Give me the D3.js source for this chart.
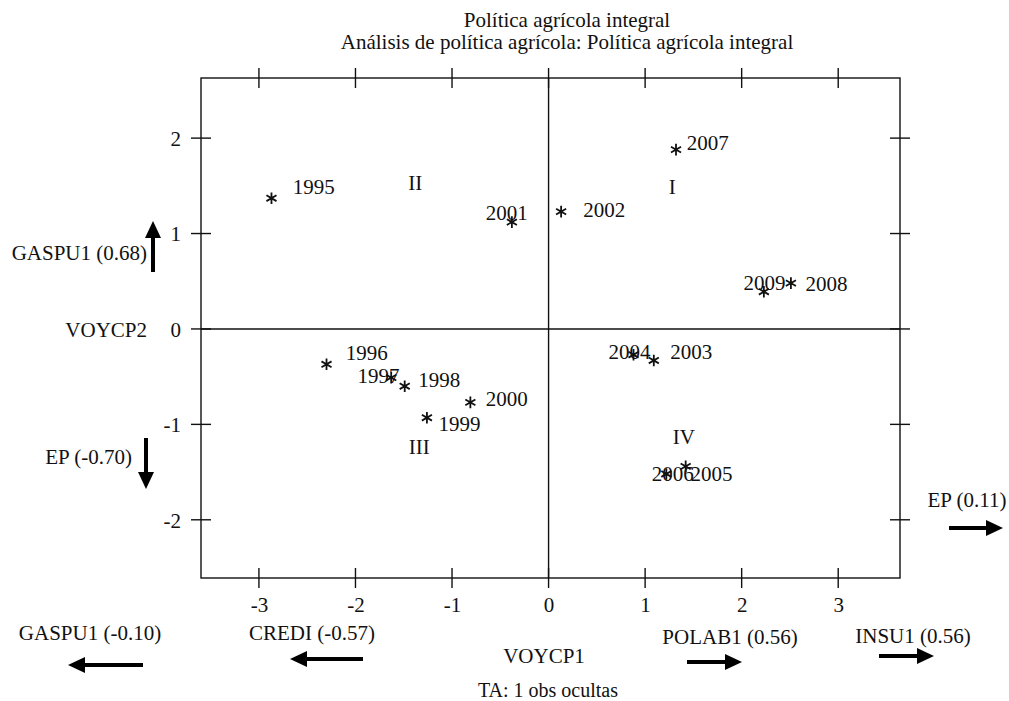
<!DOCTYPE html>
<html>
<head>
<meta charset="utf-8">
<script src="https://cdn.jsdelivr.net/npm/d3@7"></script>
<style>
  body { margin: 0; background: #fff; }
  svg text { font-family: "Liberation Serif", "Times New Roman", serif; fill: #111; }
</style>
</head>
<body>
<svg id="chart" width="1009" height="701"></svg>
<script>
// observation labels (years) and their scores on the two components
var years = ['1995', '1996', '1997', '1998', '1999', '2000', '2001', '2002',
  '2003', '2004', '2005', '2006', '2007', '2008', '2009'];
var voycp1 = [-2.87, -2.30, -1.63, -1.49, -1.26, -0.81, -0.38, 0.13,
  1.09, 0.88, 1.42, 1.22, 1.32, 2.51, 2.23];
var voycp2 = [1.37, -0.37, -0.51, -0.60, -0.93, -0.77, 1.12, 1.23,
  -0.33, -0.27, -1.44, -1.52, 1.88, 0.48, 0.39];

// where SAS put each year label (left edge / middle, in axis units)
var labelX = [-2.65, -2.10, -1.98, -1.35, -1.14, -0.65, -0.65, 0.36,
  1.26, 0.62, 1.47, 1.07, 1.43, 2.66, 2.02];
var labelY = [1.49, -0.25, -0.49, -0.53, -0.99, -0.73, 1.22, 1.25,
  -0.24, -0.24, -1.52, -1.52, 1.95, 0.48, 0.49];

// quadrant names
var quadNames = ['I', 'II', 'III', 'IV'];
var quadX = [1.28, -1.38, -1.34, 1.40];
var quadY = [1.49, 1.53, -1.23, -1.13];

var xTicks = [-3, -2, -1, 0, 1, 2, 3];
var yTicks = [-2, -1, 0, 1, 2];

// variable loadings shown as arrows around the plot
var loadNames = ['GASPU1', 'CREDI', 'POLAB1', 'INSU1', 'EP', 'GASPU1', 'EP'];
var loadValues = [-0.10, -0.57, 0.56, 0.56, 0.11, 0.68, -0.70];

var titleLines = ['Política agrícola integral',
  'Análisis de política agrícola: Política agrícola integral'];

var svg = d3.select('#chart');
var fontSize = 21;

var frame = { left: 201, right: 900, top: 78, bottom: 578 };
var tickLen = 10;

var x = d3.scaleLinear().domain([-3.6, 3.64]).range([frame.left, frame.right]);
var y = d3.scaleLinear().domain([-2.61, 2.63]).range([frame.bottom, frame.top]);

// plain hyphen for negatives, like the original
function fmt(d) { return String(d); }

// titles
svg.selectAll('.title')
  .data(titleLines)
  .enter().append('text')
  .attr('class', 'title')
  .attr('x', 567)
  .attr('y', function (d, i) { return 20 + i * 22; })
  .attr('dy', '0.35em')
  .attr('text-anchor', 'middle')
  .style('font-size', fontSize + 'px')
  .text(function (d) { return d; });

// frame
svg.append('rect')
  .attr('x', frame.left)
  .attr('y', frame.top)
  .attr('width', frame.right - frame.left)
  .attr('height', frame.bottom - frame.top)
  .attr('fill', 'none')
  .attr('stroke', '#111')
  .attr('stroke-width', 1.4);

// axes: ticks cross the frame on both sides
var axisBottom = d3.axisBottom(x).tickValues(xTicks).tickSize(0).tickFormat(fmt);
var gb = svg.append('g').attr('transform', 'translate(0,' + frame.bottom + ')').call(axisBottom);
gb.select('.domain').remove();
gb.selectAll('text')
  .attr('y', 27)
  .attr('dy', '0.35em')
  .style('font-family', '"Liberation Serif", serif')
  .style('font-size', fontSize + 'px')
  .attr('fill', '#111');

var axisLeft = d3.axisLeft(y).tickValues(yTicks).tickSize(0).tickFormat(fmt);
var gl = svg.append('g').attr('transform', 'translate(' + frame.left + ',0)').call(axisLeft);
gl.select('.domain').remove();
gl.selectAll('text')
  .attr('x', -20)
  .attr('dy', '0.35em')
  .style('font-family', '"Liberation Serif", serif')
  .style('font-size', fontSize + 'px')
  .attr('fill', '#111');

var tickG = svg.append('g')
  .attr('stroke', '#111')
  .attr('stroke-width', 1.4);

[frame.top, frame.bottom].forEach(function (edge) {
  tickG.selectAll(null)
    .data(xTicks)
    .enter().append('line')
    .attr('x1', function (d) { return x(d); })
    .attr('x2', function (d) { return x(d); })
    .attr('y1', edge - tickLen)
    .attr('y2', edge + tickLen);
});
[frame.left, frame.right].forEach(function (edge) {
  tickG.selectAll(null)
    .data(yTicks)
    .enter().append('line')
    .attr('y1', function (d) { return y(d); })
    .attr('y2', function (d) { return y(d); })
    .attr('x1', edge - tickLen)
    .attr('x2', edge + tickLen);
});

// reference lines through the origin
tickG.append('line')
  .attr('x1', x(0)).attr('x2', x(0))
  .attr('y1', frame.top).attr('y2', frame.bottom);
tickG.append('line')
  .attr('y1', y(0)).attr('y2', y(0))
  .attr('x1', frame.left).attr('x2', frame.right);

// quadrant numbers
svg.selectAll('.quad')
  .data(quadNames)
  .enter().append('text')
  .attr('class', 'quad')
  .attr('x', function (d, i) { return x(quadX[i]); })
  .attr('y', function (d, i) { return y(quadY[i]); })
  .attr('dy', '0.35em')
  .attr('text-anchor', 'middle')
  .style('font-size', fontSize + 'px')
  .text(function (d) { return d; });

// points
var star = d3.symbol().type(d3.symbolAsterisk).size(95);
svg.selectAll('.pt')
  .data(years)
  .enter().append('path')
  .attr('class', 'pt')
  .attr('d', star)
  .attr('transform', function (d, i) {
    return 'translate(' + x(voycp1[i]) + ',' + y(voycp2[i]) + ')';
  })
  .attr('fill', 'none')
  .attr('stroke', '#111')
  .attr('stroke-width', 1.8);

svg.selectAll('.yr')
  .data(years)
  .enter().append('text')
  .attr('class', 'yr')
  .attr('x', function (d, i) { return x(labelX[i]); })
  .attr('y', function (d, i) { return y(labelY[i]); })
  .attr('dy', '0.35em')
  .style('font-size', fontSize + 'px')
  .text(function (d) { return d; });

// axis titles and footnote
function addText(str, px, py, anchor, size) {
  svg.append('text')
    .attr('x', px)
    .attr('y', py)
    .attr('dy', '0.35em')
    .attr('text-anchor', anchor)
    .style('font-size', (size || fontSize) + 'px')
    .text(str);
}
addText('VOYCP1', 544, 656, 'middle');
addText('VOYCP2', 147, 330, 'end');
addText('TA: 1 obs ocultas', 548, 690, 'middle', 20);

// loading arrows
function arrow(x1, y1, x2, y2) {
  var ang = Math.atan2(y2 - y1, x2 - x1);
  var headLen = 17;
  var headHalf = 8;
  var bx = x2 - headLen * Math.cos(ang);
  var by = y2 - headLen * Math.sin(ang);
  svg.append('line')
    .attr('x1', x1).attr('y1', y1)
    .attr('x2', bx).attr('y2', by)
    .attr('stroke', '#000')
    .attr('stroke-width', 4);
  var px = -Math.sin(ang) * headHalf;
  var py = Math.cos(ang) * headHalf;
  svg.append('path')
    .attr('d', 'M' + x2 + ',' + y2 +
      'L' + (bx + px) + ',' + (by + py) +
      'L' + (bx - px) + ',' + (by - py) + 'Z')
    .attr('fill', '#000');
}

function loadLabel(i) {
  var v = loadValues[i];
  return loadNames[i] + ' (' + (v < 0 ? '-' : '') + Math.abs(v).toFixed(2) + ')';
}

// bottom row (first loading axis)
var bottomLayout = [
  { tx: 90, ty: 633, a: [143, 665, 68, 665] },
  { tx: 312, ty: 633, a: [363, 659, 290, 659] },
  { tx: 730, ty: 637, a: [687, 662, 742, 662] },
  { tx: 913, ty: 636, a: [879, 656, 934, 656] }
];
bottomLayout.forEach(function (b, i) {
  addText(loadLabel(i), b.tx, b.ty, 'middle');
  arrow(b.a[0], b.a[1], b.a[2], b.a[3]);
});

// right side
addText(loadLabel(4), 967, 500, 'middle');
arrow(949, 528, 1003, 528);

// left side (second loading axis)
addText(loadLabel(5), 147, 253, 'end');
arrow(153, 272, 153, 221);
addText(loadLabel(6), 132, 457, 'end');
arrow(146, 438, 146, 489);
</script>
</body>
</html>
